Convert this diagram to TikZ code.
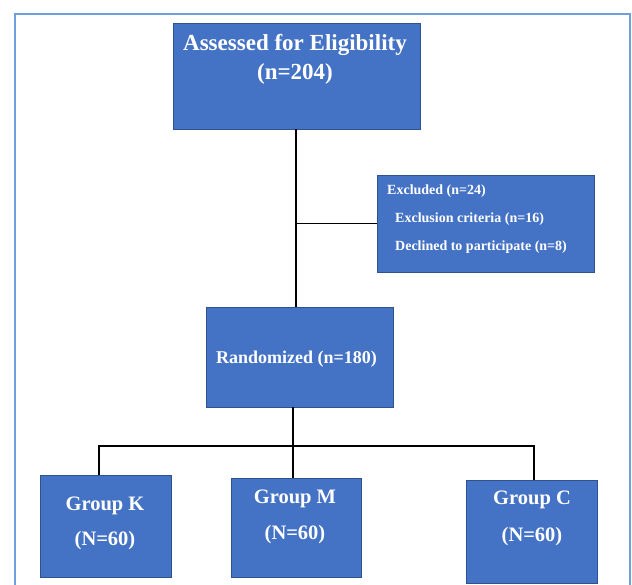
\documentclass[tikz,border=0pt]{standalone}
\usepackage{fontspec}
\setmainfont{Liberation Serif}
\definecolor{boxfill}{HTML}{4472C4}
\definecolor{boxline}{HTML}{2F528F}
\definecolor{framecol}{HTML}{6FA0DC}
\begin{document}
\begin{tikzpicture}[x=1pt,y=-1pt,
  flowbox/.style={draw=boxline,line width=0.8pt,fill=boxfill,inner sep=0pt,rectangle},
  boxtext/.style={text=white,font=\bfseries,inner sep=0pt},
  conn/.style={draw=black,line width=1.8pt}]
\useasboundingbox (0,0) rectangle (632,585);
\clip (0,0) rectangle (632,585);
\draw[framecol,line width=1.6pt] (15,14) rectangle (630,600);
% boxes
\node[flowbox,minimum width=247pt,minimum height=106pt] (ab) at (296.5,76) {};
\node[flowbox,minimum width=217pt,minimum height=97pt] (excl) at (485.5,223.5) {};
\node[flowbox,minimum width=187pt,minimum height=100pt] (rand) at (299.5,357) {};
\node[flowbox,minimum width=131pt,minimum height=102pt] (gk) at (105.5,526) {};
\node[flowbox,minimum width=130pt,minimum height=99pt] (gm) at (296,527.5) {};
\node[flowbox,minimum width=131pt,minimum height=103pt] (gc) at (531.5,531.5) {};
% texts
\node[boxtext,anchor=base,font=\fontsize{23}{27}\selectfont\bfseries] (t1) at (295,51) {Assessed for Eligibility};
\node[boxtext,anchor=base,font=\fontsize{23}{27}\selectfont\bfseries] (t2) at (295,79.5) {(n=204)};
\node[boxtext,anchor=base west,font=\fontsize{14}{16}\selectfont\bfseries] (e1) at (387,195) {Excluded (n=24)};
\node[boxtext,anchor=base west,font=\fontsize{14}{16}\selectfont\bfseries] (e2) at (395,223) {Exclusion criteria (n=16)};
\node[boxtext,anchor=base west,font=\fontsize{14}{16}\selectfont\bfseries] (e3) at (395,251) {Declined to participate (n=8)};
\node[boxtext,anchor=base west,font=\fontsize{18}{21}\selectfont\bfseries] (r1) at (216,363) {Randomized (n=180)};
\node[boxtext,anchor=base,font=\fontsize{20.5}{24}\selectfont\bfseries] (k1) at (105,510) {Group K};
\node[boxtext,anchor=base,font=\fontsize{20.5}{24}\selectfont\bfseries] (k2) at (105,545.5) {(N=60)};
\node[boxtext,anchor=base,font=\fontsize{20.5}{24}\selectfont\bfseries] (m1) at (295,503) {Group M};
\node[boxtext,anchor=base,font=\fontsize{20.5}{24}\selectfont\bfseries] (m2) at (295,539) {(N=60)};
\node[boxtext,anchor=base,font=\fontsize{20.5}{24}\selectfont\bfseries] (c1) at (532,504) {Group C};
\node[boxtext,anchor=base,font=\fontsize{20.5}{24}\selectfont\bfseries] (c2) at (532,541.5) {(N=60)};
% connectors
\coordinate (topx) at (296,0);
\coordinate (bar) at (293,446);
\coordinate (kx) at (99,446);
\coordinate (cx) at (534,446);
\draw[conn] (topx |- ab.south) -- (topx |- rand.north);
\draw[conn] (topx |- excl.west) -- (excl.west);
\draw[conn] (bar |- rand.south) -- (bar |- gm.north);
\draw[conn] (kx |- gk.north) -- (kx) -- (cx) -- (cx |- gc.north);
\end{tikzpicture}
\end{document}
